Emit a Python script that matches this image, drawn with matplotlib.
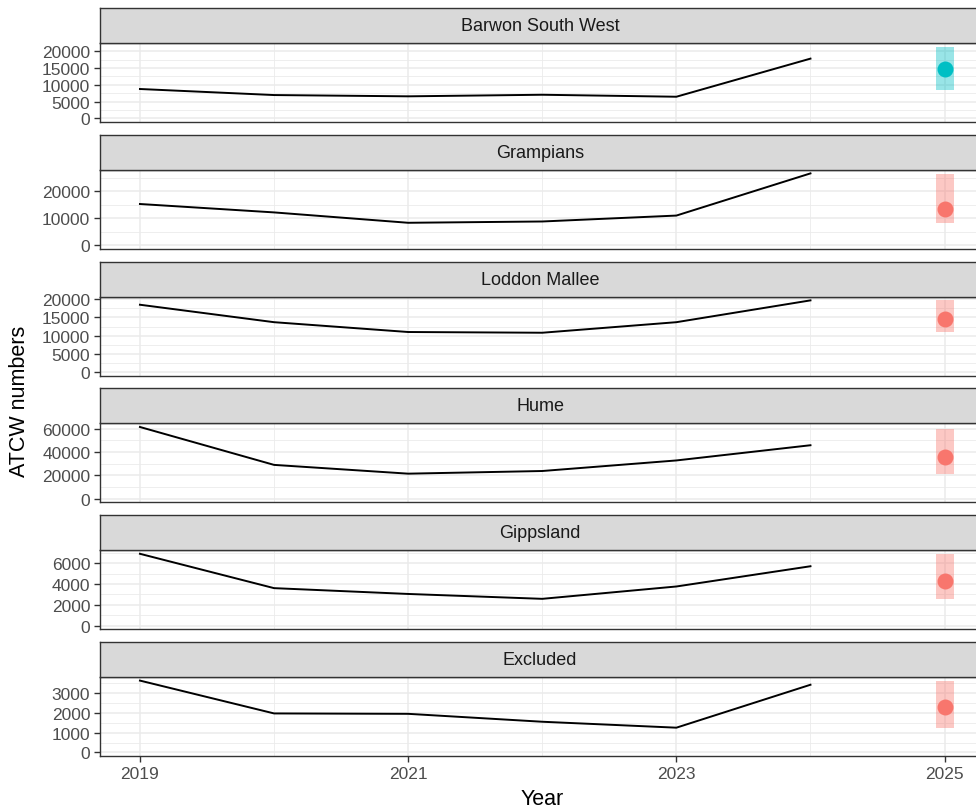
import numpy as np
import matplotlib
matplotlib.use("Agg")
from matplotlib import pyplot as plt
from matplotlib.ticker import FixedLocator, MultipleLocator, FuncFormatter

plt.rcParams['font.family'] = ['Liberation Sans', 'DejaVu Sans']

# data
regions = ["Barwon South West", "Grampians", "Loddon Mallee", "Hume", "Gippsland", "Excluded"]
years = [2019, 2020, 2021, 2022, 2023, 2024]

barwon = [8750, 6950, 6570, 7040, 6450, 17790]
grampians = [15250, 12140, 8300, 8780, 10970, 26580]
loddon = [18500, 13700, 11000, 10800, 13700, 19700]
hume = [61400, 29000, 21500, 23770, 32800, 45800]
gippsland = [6920, 3610, 3050, 2580, 3770, 5720]
excluded = [3630, 1970, 1950, 1550, 1250, 3420]

forecast_year = 2025
forecast_mid = [14630, 13420, 14600, 35700, 4300, 2290]
forecast_lo = [8450, 8300, 11000, 21500, 2600, 1220]
forecast_hi = [21370, 26470, 19750, 60000, 6920, 3620]
forecast_col = ["#00BFC4", "#F8766D", "#F8766D", "#F8766D", "#F8766D", "#F8766D"]

ytick_step = [5000, 10000, 5000, 20000, 2000, 1000]

series = [barwon, grampians, loddon, hume, gippsland, excluded]

W, H = 976, 812
fig = plt.figure(figsize=(W / 100, H / 100), dpi=100)

left = 100
width = 880
strip_h = 35
panel_h = 79
first_top = 44
period = 126.8

x0 = 2018.702
x1 = x0 + width / 134.1

grey20 = "#333333"

for i, name in enumerate(regions):
    top = first_top + period * i
    ax = fig.add_axes([left / W, 1 - (top + panel_h) / H, width / W, panel_h / H])
    sax = fig.add_axes([left / W, 1 - top / H, width / W, strip_h / H])

    # strip
    sax.set_facecolor("#D9D9D9")
    sax.set_xticks([])
    sax.set_yticks([])
    for sp in sax.spines.values():
        sp.set_color(grey20)
        sp.set_linewidth(1.0)
    sax.text(0.5, 0.5, name, transform=sax.transAxes,
             ha="center", va="center", fontsize=13, color="#1A1A1A")

    vals = series[i]
    ax.plot(years, vals, color="black", lw=1.4, zorder=3)

    c = forecast_col[i]
    ax.fill_between([forecast_year - 0.067, forecast_year + 0.067],
                    [forecast_lo[i]] * 2, [forecast_hi[i]] * 2,
                    color=c, alpha=0.4, lw=0, zorder=2)
    ax.plot([forecast_year], [forecast_mid[i]], "o", color=c, ms=11.5,
            mec="none", zorder=4)

    hi = max(max(vals), forecast_hi[i])
    ax.set_ylim(-0.05 * hi, 1.05 * hi)
    ax.set_xlim(x0, x1)

    step = ytick_step[i]
    ax.yaxis.set_major_locator(FixedLocator(np.arange(0, 1.05 * hi, step)))
    ax.yaxis.set_minor_locator(MultipleLocator(step / 2))
    ax.yaxis.set_major_formatter(FuncFormatter(lambda v, p: "%d" % v))

    ax.xaxis.set_major_locator(FixedLocator([2019, 2021, 2023, 2025]))
    ax.xaxis.set_minor_locator(FixedLocator([2020, 2022, 2024]))

    ax.grid(which="major", color="#EBEBEB", lw=1.1)
    ax.grid(which="minor", color="#EBEBEB", lw=0.6)
    ax.set_axisbelow(True)

    for sp in ax.spines.values():
        sp.set_color(grey20)
        sp.set_linewidth(1.0)

    ax.tick_params(which="major", length=4.5, width=1.0, color=grey20,
                   labelsize=12.5, labelcolor="#4D4D4D", pad=2.5)
    ax.tick_params(which="minor", length=0)

    if i < len(regions) - 1:
        ax.tick_params(axis="x", which="both", bottom=False, labelbottom=False)
    else:
        ax.set_xticklabels(["2019", "2021", "2023", "2025"])

fig.text(542 / W, 1 - 800 / H, "Year", ha="center", va="center",
         fontsize=15.5, color="black")
fig.text(20 / W, 1 - 401 / H, "ATCW numbers", ha="center", va="center",
         rotation=90, fontsize=15.5, color="black")

fig.savefig("out.png", dpi=100)
